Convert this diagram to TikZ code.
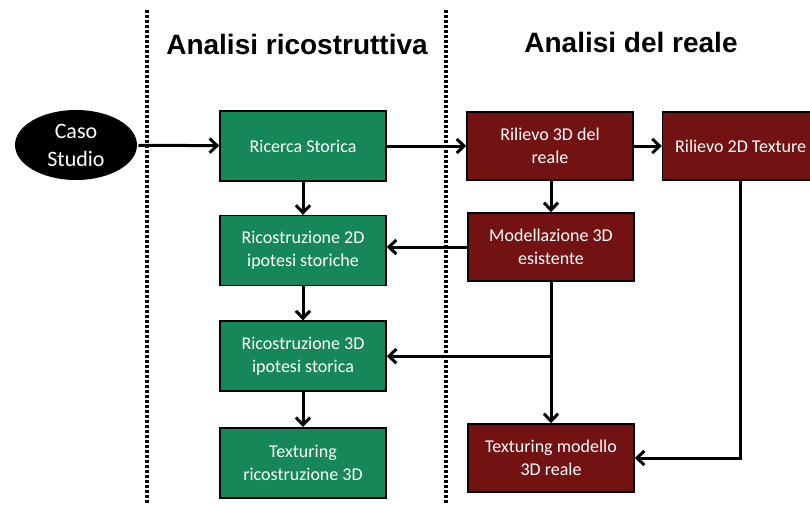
\documentclass[tikz,border=0pt]{standalone}
\usepackage{fontspec}
\setmainfont{Carlito}
\newfontfamily\headfont{Liberation Sans}
\usetikzlibrary{positioning,arrows.meta,shapes.geometric}
\definecolor{ric}{RGB}{22,135,88}
\definecolor{ril}{RGB}{115,18,18}

\begin{document}
\begin{tikzpicture}[x=1pt,y=-1pt,line width=3pt,
  >={Straight Barb[length=2.6mm,width=5mm]},
  font=\fontsize{18}{23}\selectfont,
  gbox/.style={draw=black,line width=1.6pt,fill=ric,text=white,minimum width=166pt,minimum height=70pt,align=center},
  rbox/.style={draw=black,line width=1.6pt,fill=ril,text=white,minimum width=166pt,minimum height=68pt,align=center},
  sep/.style={line width=3.4pt,dash pattern=on 3pt off 2pt},
  head/.style={font=\headfont\bfseries\fontsize{28}{32}\selectfont}]
  \useasboundingbox (0,0) rectangle (810,504);
  % separators and headings
  \draw[sep] (147,10) -- (147,504);
  \draw[sep] (446,10) -- (446,504);
  \node[head] (hric) at (297,44) {Analisi ricostruttiva};
  \node[head] (hreal) at (631,42) {Analisi del reale};
  % start
  \node[ellipse,fill=black,text=white,minimum width=122pt,minimum height=70pt,align=center,
    font=\fontsize{22}{28}\selectfont] (caso) at (76,145) {Caso\\Studio};
  % ricostruzione
  \node[gbox] (ricerca) at (303,146) {Ricerca Storica};
  \node[gbox,below=33pt of ricerca] (ric2d) {Ricostruzione 2D\\ipotesi storiche};
  \node[gbox,below=34pt of ric2d] (ric3d) {Ricostruzione 3D\\ipotesi storica};
  \node[gbox,below=35pt of ric3d] (texric) {Texturing\\ricostruzione 3D};
  % reale
  \node[rbox] (ril3d) at (550,146) {Rilievo 3D del\\reale};
  \node[rbox,minimum width=156pt,right=28pt of ril3d] (ril2d) {Rilievo 2D Texture};
  \node[rbox] (mod) at (551,247) {Modellazione 3D\\esistente};
  \node[rbox] (texmod) at (551,458) {Texturing modello\\3D reale};
  % flows
  \draw[->] (caso) -- (ricerca);
  \draw[->] (ricerca) -- (ril3d);
  \draw[->] (ril3d) -- (ril2d);
  \draw[->] (ricerca) -- (ric2d);
  \draw[->] (ric2d) -- (ric3d);
  \draw[->] (ric3d) -- (texric);
  \draw[->] (ril3d.south -| mod.north) -- (mod.north);
  \draw[->] (mod.west) -- (mod.west -| ric2d.east);
  \draw[->] (mod.south) -- (texmod.north);
  \coordinate (jn) at (mod.south |- ric3d.east);
  \draw[->] (jn) -- (ric3d.east);
  \draw[->] (ril2d.south) |- (texmod.east);
\end{tikzpicture}
\end{document}
